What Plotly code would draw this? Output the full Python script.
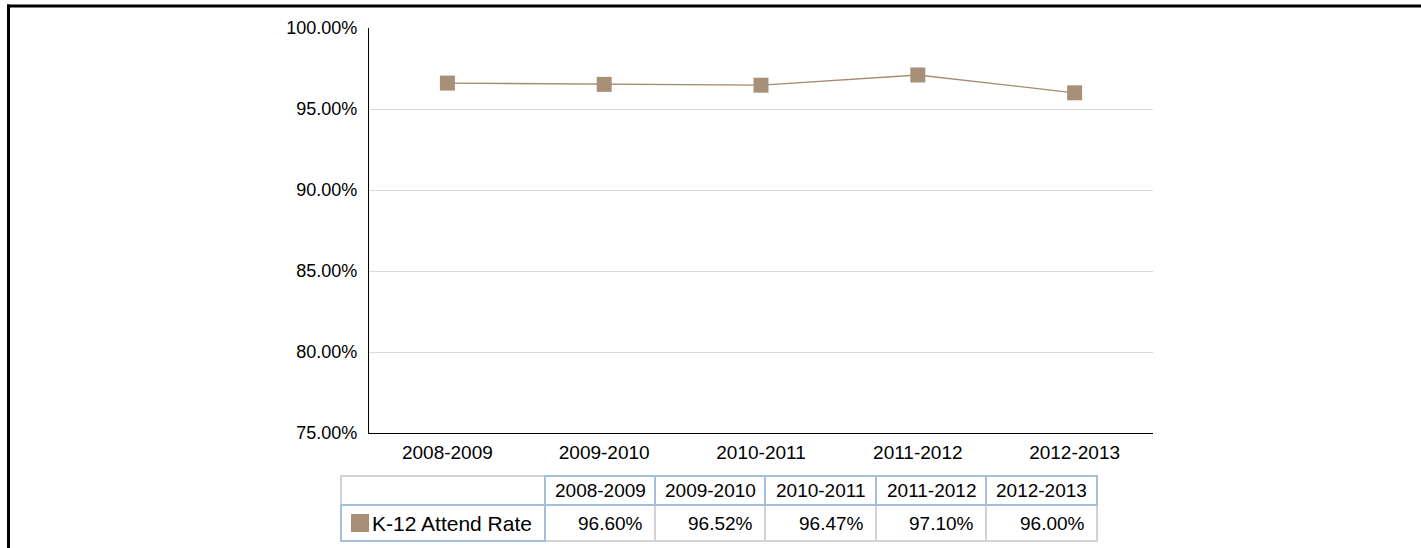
import plotly.graph_objects as go

years = ["2008-2009", "2009-2010", "2010-2011", "2011-2012", "2012-2013"]
attend_rate = [96.60, 96.52, 96.47, 97.10, 96.00]
series_name = "K-12 Attend Rate"
y_ticks = [75, 80, 85, 90, 95, 100]

W, H = 1421, 548
L, R, T, B = 369, 1153, 28, 433
color = "#A89078"
line_color = "#A58B72"
grid = "#DADADA"
gray_b = "#D3D3D3"
blue_b = "#A3BFDC"
font = "Liberation Sans, Arial, sans-serif"

def fx(x):
    return (x - L) / (R - L)

def fy(y):
    return (B - y) / (B - T)

fig = go.Figure()
fig.add_trace(go.Scatter(
    x=years, y=attend_rate, mode="lines+markers",
    line=dict(color=line_color, width=1.3),
    marker=dict(symbol="square", size=15, color=color),
    name=series_name, showlegend=False, hoverinfo="skip"))

shapes = []
annotations = []

# outer frame: top and left edges only
shapes.append(dict(type="line", xref="paper", yref="paper",
                   x0=fx(7), x1=fx(1425), y0=fy(6), y1=fy(6),
                   line=dict(color="black", width=3), layer="below"))
shapes.append(dict(type="line", xref="paper", yref="paper",
                   x0=fx(8.5), x1=fx(8.5), y0=fy(4.5), y1=fy(560),
                   line=dict(color="black", width=3), layer="below"))

# table geometry
col_edges = [341, 545, 655, 765, 876, 986, 1097]
row_edges = [476, 505, 541]

def cell(x0, x1, y0, y1, c):
    shapes.append(dict(type="rect", xref="paper", yref="paper",
                       x0=fx(x0), x1=fx(x1), y0=fy(y1), y1=fy(y0),
                       line=dict(color=c, width=2), fillcolor="white", layer="above"))

cell(col_edges[0], col_edges[1], row_edges[0], row_edges[1], gray_b)
for i in range(len(years)):
    cell(col_edges[i + 1], col_edges[i + 2], row_edges[1], row_edges[2], gray_b)
for i in range(len(years)):
    cell(col_edges[i + 1], col_edges[i + 2], row_edges[0], row_edges[1], blue_b)
cell(col_edges[0], col_edges[1], row_edges[1], row_edges[2], blue_b)

for i, yr in enumerate(years):
    annotations.append(dict(xref="paper", yref="paper",
                            x=fx((col_edges[i + 1] + col_edges[i + 2]) / 2),
                            y=fy((row_edges[0] + row_edges[1]) / 2),
                            text=yr, showarrow=False, xanchor="center", yanchor="middle",
                            font=dict(family=font, size=19, color="black")))
    annotations.append(dict(xref="paper", yref="paper",
                            x=fx(col_edges[i + 2] - 10),
                            y=fy((row_edges[1] + row_edges[2]) / 2),
                            text=f"{attend_rate[i]:.2f}%", showarrow=False,
                            xanchor="right", yanchor="middle",
                            font=dict(family=font, size=19, color="black")))

# legend swatch and label
shapes.append(dict(type="rect", xref="paper", yref="paper",
                   x0=fx(351), x1=fx(369), y0=fy(532), y1=fy(514),
                   line=dict(width=0), fillcolor=color, layer="above"))
annotations.append(dict(xref="paper", yref="paper", x=fx(370),
                        y=fy((row_edges[1] + row_edges[2]) / 2),
                        text=series_name, showarrow=False, xanchor="left", yanchor="middle",
                        font=dict(family=font, size=21, color="black")))

fig.update_layout(
    width=W, height=H,
    margin=dict(l=L, r=W - R, t=T, b=H - B, pad=0),
    paper_bgcolor="white", plot_bgcolor="white",
    font=dict(family=font, size=18, color="black"),
    shapes=shapes, annotations=annotations,
    xaxis=dict(type="category", showgrid=False, showline=True, linecolor="black",
               linewidth=1.3, ticks="", tickfont=dict(size=19, family=font),
               ticklabelstandoff=2,
               range=[-0.5, len(years) - 0.5], fixedrange=True),
    yaxis=dict(range=[75, 100], tickvals=y_ticks,
               ticktext=[f"{v:.2f}%" for v in y_ticks],
               showgrid=True, gridcolor=grid, gridwidth=1.3,
               showline=True, linecolor="black", linewidth=1.3,
               ticks="", ticklabelstandoff=7, zeroline=False,
               tickfont=dict(size=18, family=font), fixedrange=True),
)

fig.write_html("out.html", config={"displayModeBar": False},
               post_script="document.body.style.margin='0px';document.body.style.overflow='hidden';")
